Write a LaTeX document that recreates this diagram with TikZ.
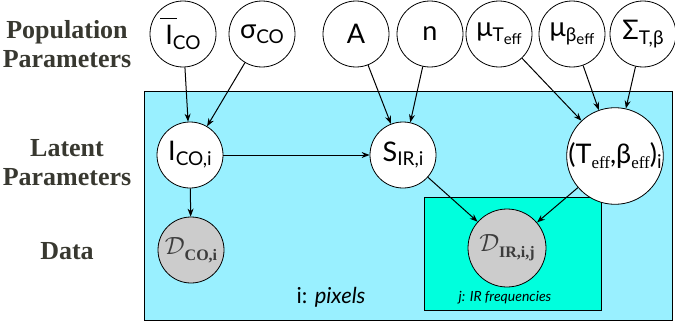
\documentclass[tikz,border=0pt]{standalone}
\usepackage{fontspec}
\setmainfont{Liberation Serif}
\newfontfamily\gill{Lato}
\usetikzlibrary{arrows.meta}
\definecolor{plateA}{RGB}{153,240,255}
\definecolor{plateB}{RGB}{0,255,221}
\definecolor{obsgray}{RGB}{204,204,204}
\definecolor{labgray}{RGB}{56,56,48}
\definecolor{dgray}{RGB}{60,60,60}
\newcommand\lowsub[1]{\raisebox{-0.35ex}{\fontsize{19}{19}\selectfont #1}}
\newcommand\tinysub[1]{\raisebox{-0.35ex}{\fontsize{15}{15}\selectfont #1}}
\newcommand\serifsub[1]{\raisebox{-0.3ex}{\rmfamily\fontsize{17}{17}\selectfont #1}}
\newcommand\obstext[1]{{\color{dgray}$\mathcal{D}$\raisebox{-0.35ex}{\rmfamily\bfseries\fontsize{16}{16}\selectfont #1}}}
\newcommand\barI{\leavevmode\rlap{\kern-0.2em\rule[0.95em]{0.62em}{0.045em}}I}
\begin{document}
\begin{tikzpicture}[x=1pt,y=-1pt,
 var/.style={circle,draw=black,line width=0.8pt,fill=white,minimum size=66pt,inner sep=0pt,font=\gill\fontsize{27}{27}\selectfont},
 bigvar/.style={var,minimum size=78pt},
 obs/.style={var,fill=obsgray,font=\fontsize{36}{36}\selectfont},
 edge/.style={-{Stealth[length=8pt,width=6pt]},line width=1pt},
 lab/.style={font=\bfseries\fontsize{26}{26}\selectfont,text=labgray,anchor=base},
 plate/.style={draw=black,line width=0.8pt,inner sep=0pt,anchor=north west}]
\useasboundingbox (0,0) rectangle (675,324);
% plates
\node[plate,fill=plateA,minimum width=528pt,minimum height=229pt] (plateI) at (144,91) {};
\node[plate,fill=plateB,minimum width=177pt,minimum height=113pt] (plateJ) at (424,197) {};
% labels
\node[lab] (lpop1) at (67,38) {Population};
\node[lab] (lpop2) at (67,67) {Parameters};
\node[lab] (llat1) at (67,156) {Latent};
\node[lab] (llat2) at (67,185) {Parameters};
\node[lab] (ldat) at (67,259) {Data};
\node[font=\gill\fontsize{22}{22}\selectfont] (lpix) at (331,297) {i: \textit{pixels}};
\node[font=\gill\itshape\fontsize{14}{14}\selectfont] (lfreq) at (505,298) {j: IR frequencies};
% population nodes
\node[var] (Ibar) at (183,34) {\barI\lowsub{CO}};
\node[var] (sig) at (262,34) {σ\lowsub{CO}};
\node[var] (A) at (356,34) {A};
\node[var] (n) at (430,34) {n};
\node[var] (muT) at (499,34) {μ\lowsub{T\tinysub{eff}}};
\node[var] (muB) at (572,34) {μ\lowsub{β\tinysub{eff}}};
\node[var] (Sig) at (643,34) {Σ\lowsub{T,β}};
% latent nodes
\node[var] (Ii) at (190,155) {I\lowsub{CO,i}};
\node[var] (Si) at (403,155) {S\lowsub{IR,i}};
\node[bigvar] (TB) at (615,156) {(T\serifsub{eff},β\serifsub{eff})\lowsub{i}};
% data nodes
\node[obs] (Dco) at (191,250) {\obstext{CO,i}};
\node[obs,minimum size=78pt] (Dir) at (507,248) {\obstext{IR,i,j}};
% edges
\draw[edge] (Ibar) -- (Ii);
\draw[edge] (sig) -- (Ii);
\draw[edge] (A) -- (Si);
\draw[edge] (n) -- (Si);
\draw[edge] (Ii) -- (Si);
\draw[edge] (muT) -- (TB);
\draw[edge] (muB) -- (TB);
\draw[edge] (Sig) -- (TB);
\draw[edge] (Ii) -- (Dco);
\draw[edge] (Si) -- (Dir);
\draw[edge] (TB) -- (Dir);
\end{tikzpicture}
\end{document}
